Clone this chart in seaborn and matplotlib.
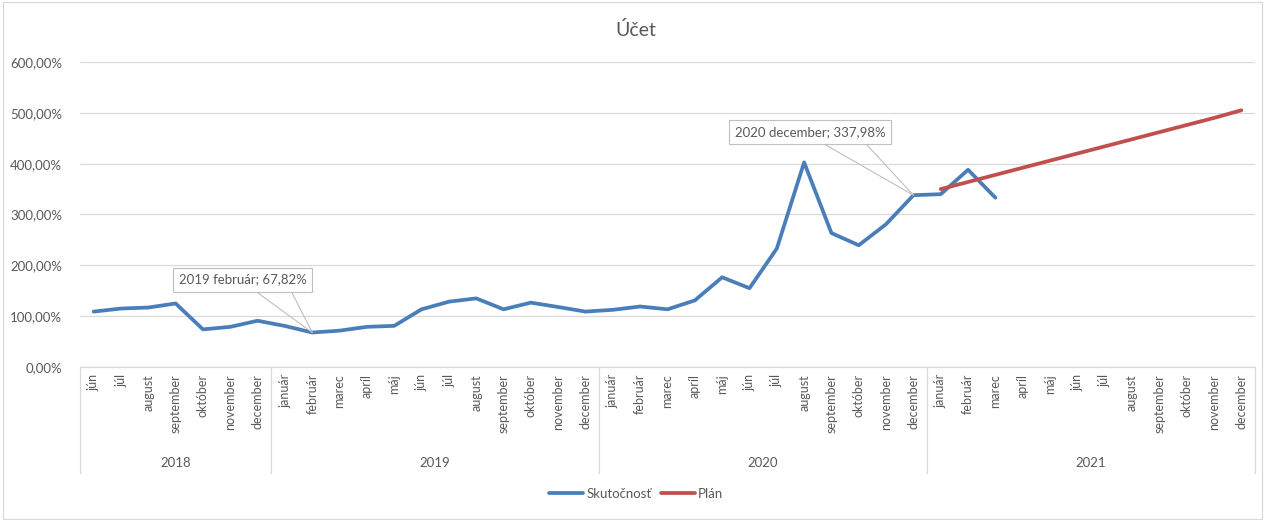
import matplotlib
matplotlib.use('Agg')
import matplotlib.pyplot as plt
import matplotlib.ticker as mticker
from matplotlib.lines import Line2D
from matplotlib.patches import Rectangle
import seaborn as sns
import pandas as pd

# data
months_2018 = ['jún', 'júl', 'august', 'september', 'október', 'november', 'december']
months_full = ['január', 'február', 'marec', 'apríl', 'máj', 'jún', 'júl',
               'august', 'september', 'október', 'november', 'december']
years = ['2018', '2019', '2020', '2021']
month_labels = months_2018 + months_full * 3
year_labels = ['2018'] * 7 + ['2019'] * 12 + ['2020'] * 12 + ['2021'] * 12

actual = [109, 115, 117, 125, 74, 79, 91,
          80.7, 67.82, 71.5, 79, 81, 113.5, 128.5, 135, 113.5, 126.6, 118, 109,
          112.5, 119, 113.5, 131, 176.5, 155, 233, 402.5, 263.5, 239.5, 281, 337.98,
          340, 388, 333]
plan = [350, 364, 378, 392, 406, 420, 434, 448, 462, 476, 490, 505]
plan_start = 31  # 2021 január

blue = '#4a7ebb'
red = '#c0504d'
grey_txt = '#595959'
grid_c = '#d9d9d9'

rows = []
for i, v in enumerate(actual):
    rows.append({'pos': i, 'hodnota': v, 'séria': 'Skutočnosť'})
for i, v in enumerate(plan):
    rows.append({'pos': plan_start + i, 'hodnota': v, 'séria': 'Plán'})
df = pd.DataFrame(rows)

sns.set_theme(style='white')
plt.rcParams['font.family'] = ['Lato', 'DejaVu Sans']

fig = plt.figure(figsize=(12.72, 5.2), dpi=100)
ax = fig.add_axes([80 / 1272, 1 - 367 / 520, (1255 - 80) / 1272, (367 - 62) / 520])

sns.lineplot(data=df, x='pos', y='hodnota', hue='séria', estimator=None,
             palette={'Skutočnosť': blue, 'Plán': red}, linewidth=2.7,
             legend=False, ax=ax)

n = len(month_labels)
ax.set_xlim(-0.5, n - 0.5)
ax.set_ylim(0, 600)
ax.set_yticks(range(0, 601, 100))
ax.yaxis.set_major_formatter(mticker.FuncFormatter(
    lambda v, p: f'{v:.2f}'.replace('.', ',') + '%'))
ax.grid(axis='y', color=grid_c, linewidth=0.9)
ax.set_axisbelow(True)
for s in ['top', 'right', 'left']:
    ax.spines[s].set_visible(False)
ax.spines['bottom'].set_color(grid_c)
ax.spines['bottom'].set_linewidth(0.9)
ax.set_xticks(range(n))
ax.set_xticklabels(month_labels, rotation=90, va='top', ha='center')
ax.tick_params(axis='x', length=0, pad=5, labelsize=9, colors=grey_txt)
ax.tick_params(axis='y', length=0, pad=13, labelsize=9.5, colors=grey_txt)
ax.set_xlabel('')
ax.set_ylabel('')

# year groups on the category axis
trans = ax.get_xaxis_transform()
bounds = [-0.5]
for y in years:
    bounds.append(bounds[-1] + year_labels.count(y))
for b in bounds:
    ax.plot([b, b], [0, -0.348], transform=trans, color=grid_c, lw=0.9, clip_on=False)
for k, y in enumerate(years):
    ax.text((bounds[k] + bounds[k + 1]) / 2, -0.315, y, transform=trans,
            ha='center', va='center', fontsize=9.5, color=grey_txt)

# callouts
def callout(idx, value, cx, cy, x1, x2, ybot):
    text = f'{year_labels[idx]} {month_labels[idx]}; {value:.2f}%'.replace('.', ',')
    ax.text(cx, cy, text, ha='center', va='center', fontsize=9.5, color=grey_txt,
            bbox=dict(boxstyle='square,pad=0.45', fc='white', ec='#bfbfbf', lw=0.8),
            zorder=5)
    for xx in (x1, x2):
        ax.plot([xx, idx], [ybot, value], color='#bfbfbf', lw=0.8, zorder=4)

callout(8, actual[8], 5.45, 172, 5.9, 7.22, 150)
callout(30, actual[30], 26.22, 462, 26.72, 28.26, 439)

fig.text(0.5, 1 - 30 / 520, 'Účet', ha='center', va='center', fontsize=14, color=grey_txt)

handles = [Line2D([], [], color=blue, lw=2.7), Line2D([], [], color=red, lw=2.7)]
fig.legend(handles, ['Skutočnosť', 'Plán'], loc='center',
           bbox_to_anchor=(0.5, 1 - 494 / 520), ncol=2, frameon=False,
           fontsize=9.5, handlelength=2.6, handletextpad=0.25, columnspacing=0.7,
           labelcolor=grey_txt)

fig.patches.append(Rectangle((3 / 1272, 0.002), 1259 / 1272, 0.994,
                             transform=fig.transFigure, fill=False,
                             ec=grid_c, lw=0.9))

fig.savefig('out.png', dpi=100)
